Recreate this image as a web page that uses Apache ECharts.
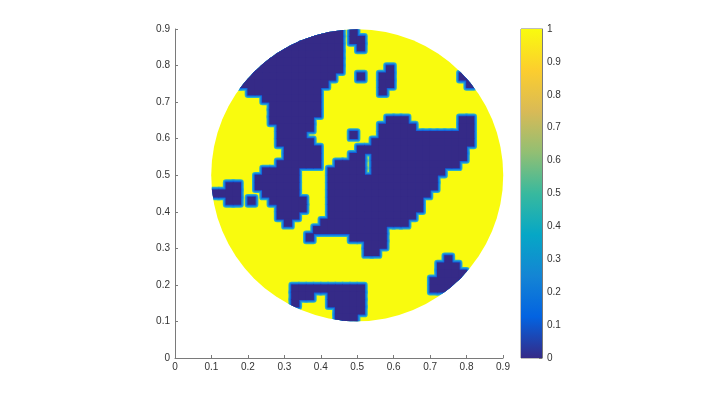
<!DOCTYPE html>
<html>
<head>
<meta charset="utf-8">
<script src="https://cdn.jsdelivr.net/npm/echarts@6/dist/echarts.min.js"></script>
<style>
  html, body { margin: 0; background: #fff; }
  #chart { width: 714px; height: 405px; }
</style>
</head>
<body>
<div id="chart"></div>
<script>
// disk and grid of nodes
const diskCenter = [0.5, 0.5]
const diskRadius = 0.4
const cellSize = 0.02
const firstCellX = 0.11   // centre of column 0
const firstCellY = 0.89   // centre of row 0 (rows go downwards)

// runs of blue (value 0) cells per row, [fromCol, toCol], everything else is 1
const blueRuns = [
  [[0, 17], [19, 19]],
  [[0, 17], [19, 20]],
  [[0, 17], [20, 20]],
  [[0, 17]],
  [[0, 17]],
  [[0, 17], [24, 24]],
  [[0, 16], [20, 20], [23, 24], [34, 35]],
  [[0, 15], [23, 24], [35, 35]],
  [[5, 14], [23, 23]],
  [[7, 14]],
  [[8, 14]],
  [[8, 14]],
  [[8, 13], [24, 26], [34, 35]],
  [[9, 13], [23, 27], [34, 35]],
  [[9, 12], [19, 19], [23, 35]],
  [[9, 13], [22, 35]],
  [[10, 14], [20, 34]],
  [[10, 14], [19, 20], [22, 34]],
  [[9, 14], [17, 20], [22, 33]],
  [[7, 11], [16, 20], [22, 31]],
  [[6, 11], [16, 30]],
  [[2, 3], [6, 11], [16, 30]],
  [[0, 3], [7, 11], [16, 29]],
  [[2, 3], [5, 5], [8, 12], [16, 28]],
  [[9, 12], [16, 28]],
  [[9, 11], [16, 27]],
  [[10, 10], [15, 26]],
  [[14, 23]],
  [[13, 13], [19, 23]],
  [[21, 23]],
  [[21, 22]],
  [[32, 32]],
  [[31, 33]],
  [[31, 34]],
  [[30, 34]],
  [[11, 20], [30, 32]],
  [[11, 13], [16, 20]],
  [[11, 11], [16, 20]],
  [[17, 20]],
  [[17, 19]],
]

// parula colormap stops and colorbar
const parulaStops = [0, 0.125, 0.25, 0.375, 0.5, 0.625, 0.75, 0.875, 1]
const parulaColors = ['#352a87', '#0363e1', '#1485d4', '#06a7c6', '#38b99e', '#92bf73', '#d9ba56', '#fcce2e', '#f9fb0e']
const colorbarRange = [0, 1]

const cells = []
blueRuns.forEach((runs, r) => {
  runs.forEach(([a, b]) => {
    for (let c = a; c <= b; c++) cells.push([firstCellX + cellSize * c, firstCellY - cellSize * r])
  })
})

const axisColor = '#7a7a7a'
const labelStyle = { color: '#333', fontSize: 10, fontFamily: 'Liberation Sans, Arial, sans-serif' }

function diskClip(api) {
  const c = api.coord(diskCenter)
  const s = api.size([diskRadius, diskRadius])
  return { type: 'circle', shape: { cx: c[0], cy: c[1], r: (s[0] + s[1]) / 2 } }
}

function cellLayer(color, pad, z) {
  return {
    type: 'custom',
    z,
    silent: true,
    data: cells,
    renderItem: (params, api) => {
      const x = api.value(0), y = api.value(1)
      const p0 = api.coord([x - cellSize / 2, y + cellSize / 2])
      const p1 = api.coord([x + cellSize / 2, y - cellSize / 2])
      return {
        type: 'rect',
        shape: {
          x: p0[0] - pad, y: p0[1] - pad,
          width: p1[0] - p0[0] + 2 * pad, height: p1[1] - p0[1] + 2 * pad,
          r: pad > 1 ? pad : 0,
        },
        style: { fill: color },
        clipPath: diskClip(api),
      }
    },
  }
}

const chart = echarts.init(document.getElementById('chart'))
chart.setOption({
  animation: false,
  grid: [
    { left: 175, top: 29, width: 328, height: 329 },
    { left: 521, top: 29, width: 21, height: 329, show: true, borderColor: axisColor, borderWidth: 1 },
  ],
  xAxis: [
    {
      type: 'value', gridIndex: 0, min: 0, max: 0.9, interval: 0.1,
      axisLine: { lineStyle: { color: axisColor } },
      axisTick: { inside: true, length: 3, lineStyle: { color: axisColor } },
      axisLabel: { ...labelStyle, margin: 4 },
      splitLine: { show: false },
    },
    { type: 'category', gridIndex: 1, data: ['c'], show: false },
  ],
  yAxis: [
    {
      type: 'value', gridIndex: 0, min: 0, max: 0.9, interval: 0.1,
      axisLine: { show: true, lineStyle: { color: axisColor } },
      axisTick: { show: true, inside: true, length: 3, lineStyle: { color: axisColor } },
      axisLabel: { ...labelStyle, margin: 5 },
      splitLine: { show: false },
    },
    {
      type: 'value', gridIndex: 1, position: 'right',
      min: colorbarRange[0], max: colorbarRange[1], interval: 0.1,
      axisLine: { show: true, lineStyle: { color: axisColor } },
      axisTick: { show: true, inside: true, length: 3, lineStyle: { color: axisColor } },
      axisLabel: { ...labelStyle, margin: 5 },
      splitLine: { show: false },
    },
  ],
  series: [
    {
      type: 'custom',
      z: 1,
      silent: true,
      data: [diskCenter],
      renderItem: (params, api) => ({ ...diskClip(api), style: { fill: parulaColors[8] } }),
    },
    cellLayer('#2ab0cc', 3.2, 2),
    cellLayer('#1c86d8', 2.2, 3),
    cellLayer('#0f5fde', 1.2, 4),
    cellLayer(parulaColors[0], 0.4, 5),
    {
      type: 'bar',
      xAxisIndex: 1,
      yAxisIndex: 1,
      barWidth: '100%',
      silent: true,
      data: [colorbarRange[1]],
      itemStyle: {
        color: new echarts.graphic.LinearGradient(0, 1, 0, 0,
          parulaStops.map((s, i) => ({ offset: s, color: parulaColors[i] }))),
      },
    },
  ],
})
</script>
</body>
</html>
